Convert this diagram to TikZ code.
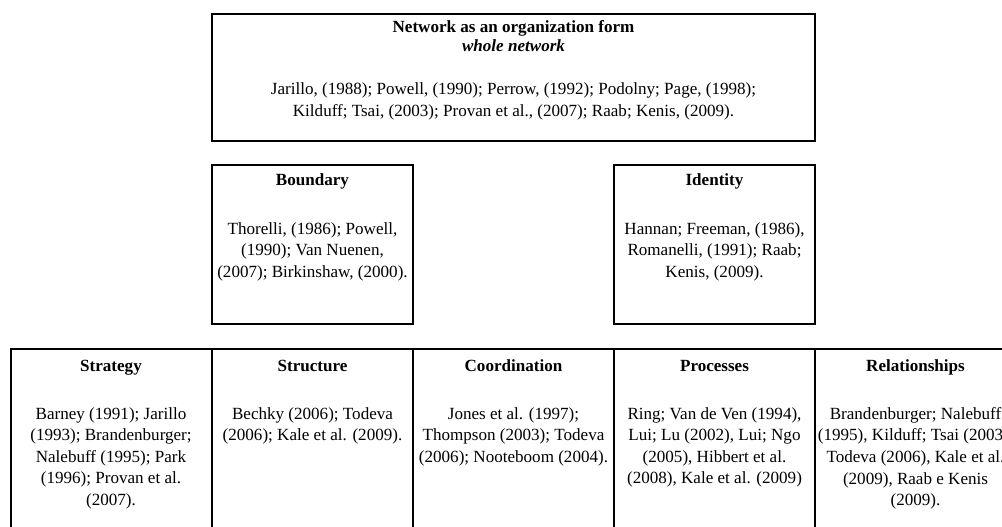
\documentclass[tikz,border=0pt]{standalone}
\usepackage{fontspec}
\setmainfont{Liberation Serif}
\usetikzlibrary{positioning}

\begin{document}
\begin{tikzpicture}[
  x=0.75pt, y=-0.75pt,
  every node/.style={font=\fontsize{12.8}{16.2}\selectfont},
  box/.style={draw, line width=1.5pt, minimum width=150.75pt,
              minimum height=119.25pt, inner sep=0pt},
  colbox/.style={box, minimum height=147pt},
  hdr/.style={anchor=base, inner sep=0pt,
              font=\fontsize{12.8}{14.4}\selectfont\bfseries},
  refs/.style={anchor=north, align=center, inner sep=0pt},
]
  \useasboundingbox (0,0) rectangle (1002,527);
  \clip (0,0) rectangle (1002,527);

  % whole network
  \node[box, line width=2.2pt, minimum width=452.25pt,
        minimum height=95.25pt] (net) at (513.5,77.5) {};
  \node[hdr] (netH) at (513.5,33) {Network as an organization form};
  \node[hdr, font=\fontsize{12.8}{14.4}\selectfont\bfseries\itshape]
       (netS) at (513.5,52) {whole network};
  \node[refs, font=\fontsize{12.8}{16.5}\selectfont] (netR) at (513.5,82)
       {Jarillo, (1988); Powell, (1990); Perrow, (1992); Podolny; Page, (1998);\\
        Kilduff; Tsai, (2003); Provan et al., (2007); Raab; Kenis, (2009).};

  % boundary and identity
  \node[box] (bnd) at (312.5,244.5) {};
  \node[hdr] (bndH) at (312.5,186) {Boundary};
  \node[refs] (bndR) at (312.5,222)
       {Thorelli, (1986); Powell,\\ (1990); Van Nuenen,\\ (2007); Birkinshaw, (2000).};

  \node[box] (idt) at (714.5,244.5) {};
  \node[hdr] (idtH) at (714.5,186) {Identity};
  \node[refs] (idtR) at (714.5,222)
       {Hannan; Freeman, (1986),\\ Romanelli, (1991); Raab;\\ Kenis, (2009).};

  % dimensions
  \node[colbox] (str) at (111,447) {};
  \node[hdr] (strH) at (111,371) {Strategy};
  \node[refs] (strR) at (111,407)
       {Barney (1991); Jarillo\\ (1993); Brandenburger;\\ Nalebuff (1995); Park\\
        (1996); Provan et al.\\ (2007).};

  \node[colbox] (stc) at (312.5,447) {};
  \node[hdr] (stcH) at (312.5,371) {Structure};
  \node[refs] (stcR) at (312.5,407)
       {Bechky (2006); Todeva\\ (2006); Kale et al. (2009).};

  \node[colbox] (crd) at (513.5,447) {};
  \node[hdr] (crdH) at (513.5,371) {Coordination};
  \node[refs] (crdR) at (513.5,407)
       {Jones et al. (1997);\\ Thompson (2003); Todeva\\ (2006); Nooteboom (2004).};

  \node[colbox] (prc) at (714.5,447) {};
  \node[hdr] (prcH) at (714.5,371) {Processes};
  \node[refs] (prcR) at (714.5,407)
       {Ring; Van de Ven (1994),\\ Lui; Lu (2002), Lui; Ngo\\ (2005), Hibbert et al.\\
        (2008), Kale et al. (2009)};

  \node[colbox] (rel) at (915.5,447) {};
  \node[hdr] (relH) at (915.5,371) {Relationships};
  \node[refs] (relR) at (915.5,407)
       {Brandenburger; Nalebuff\\ (1995), Kilduff; Tsai (2003),\\ Todeva (2006), Kale et al.\\
        (2009), Raab e Kenis\\ (2009).};
\end{tikzpicture}
\end{document}
